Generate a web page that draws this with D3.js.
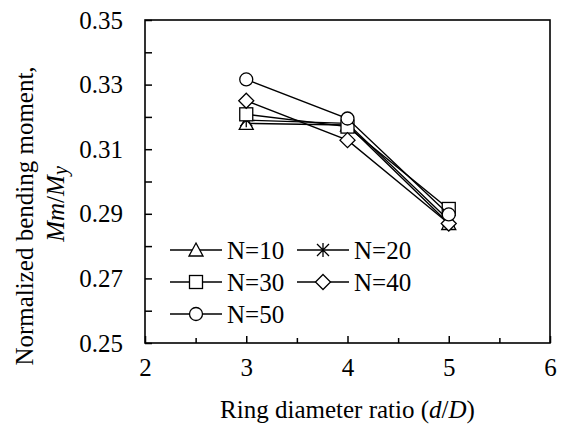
<!DOCTYPE html>
<html>
<head>
<meta charset="utf-8">
<script src="https://cdn.jsdelivr.net/npm/d3@7"></script>
<style>
  body { margin: 0; background: #fff; }
</style>
</head>
<body>
<svg id="chart" width="563" height="430"></svg>
<script>
// data
const ratios = [3, 4, 5];
const seriesNames = ['N=10', 'N=20', 'N=30', 'N=40', 'N=50'];
const markers = ['triangle', 'star', 'square', 'diamond', 'circle'];
const n10 = [0.3180, 0.3175, 0.2870];
const n20 = [0.3190, 0.3180, 0.2880];
const n30 = [0.3208, 0.3170, 0.2915];
const n40 = [0.3250, 0.3128, 0.2870];
const n50 = [0.3316, 0.3195, 0.2898];
const xTicks = [2, 3, 4, 5, 6];
const yTicks = [0.25, 0.27, 0.29, 0.31, 0.33, 0.35];

const allSeries = [n10, n20, n30, n40, n50];
const FONT = '"Liberation Serif"';

const svg = d3.select('#chart');
const width = 563, height = 430;
const margin = {t: 20, r: 13, b: 87, l: 145};

const x = d3.scaleLinear().domain([2, 6]).range([margin.l, width - margin.r]);
const y = d3.scaleLinear().domain([0.25, 0.35]).range([height - margin.b, margin.t]);

// minor ticks
const xMinor = d3.range(2.5, 6, 1);
const yMinor = d3.range(0.26, 0.35, 0.02);

// axes with inward ticks
svg.append('g')
    .attr('transform', `translate(0,${height - margin.b})`)
    .call(d3.axisBottom(x).tickValues(xTicks).tickSize(-7).tickPadding(15).tickFormat(d3.format('d')))
    .call(g => g.selectAll('text').attr('dy', '0.71em'));
svg.append('g')
    .attr('transform', `translate(0,${height - margin.b})`)
    .call(d3.axisBottom(x).tickValues(xMinor).tickSize(-5).tickFormat(''));

svg.append('g')
    .attr('transform', `translate(${margin.l},0)`)
    .call(d3.axisLeft(y).tickValues(yTicks).tickSize(-7).tickPadding(22).tickFormat(d3.format('.2f')));
svg.append('g')
    .attr('transform', `translate(${margin.l},0)`)
    .call(d3.axisLeft(y).tickValues(yMinor).tickSize(-7).tickFormat(''));

svg.selectAll('.tick text').attr('font-family', null).style('font-family', FONT).style('font-size', '25px').attr('fill', '#000');
svg.selectAll('.tick line').attr('stroke', '#000').attr('stroke-width', 1.5);
svg.selectAll('.domain').remove();

// frame
svg.append('rect')
    .attr('x', margin.l).attr('y', margin.t)
    .attr('width', width - margin.l - margin.r)
    .attr('height', height - margin.t - margin.b)
    .attr('fill', 'none').attr('stroke', '#000').attr('stroke-width', 1.6);

function drawMarker(g, type, cx, cy) {
    const st = {fill: '#fff', stroke: '#000', 'stroke-width': 1.3};
    let el;
    if (type === 'circle') {
        el = g.append('circle').attr('cx', cx).attr('cy', cy).attr('r', 6.5);
    } else if (type === 'square') {
        el = g.append('rect').attr('x', cx - 6.5).attr('y', cy - 6.5).attr('width', 13).attr('height', 13);
    } else if (type === 'diamond') {
        el = g.append('path').attr('d', `M${cx},${cy - 7.5}L${cx + 7.5},${cy}L${cx},${cy + 7.5}L${cx - 7.5},${cy}Z`);
    } else if (type === 'triangle') {
        el = g.append('path').attr('d', `M${cx},${cy - 7}L${cx + 7},${cy + 6}L${cx - 7},${cy + 6}Z`);
    } else {
        el = g.append('path').attr('d',
            `M${cx - 6},${cy - 6}L${cx + 6},${cy + 6}M${cx - 6},${cy + 6}L${cx + 6},${cy - 6}M${cx},${cy - 7}L${cx},${cy + 7}`);
        st.fill = 'none';
    }
    Object.entries(st).forEach(([k, v]) => el.attr(k, v));
}

const line = d3.line().x((d, i) => x(ratios[i])).y(d => y(d));

allSeries.forEach((vals, si) => {
    const g = svg.append('g');
    g.append('path')
        .attr('d', line(vals))
        .attr('fill', 'none').attr('stroke', '#000').attr('stroke-width', 1.4);
    vals.forEach((v, i) => drawMarker(g, markers[si], x(ratios[i]), y(v)));
});

// legend
const legendRows = [250, 282, 314];
const legendCols = [170, 297];
seriesNames.forEach((name, i) => {
    const lx = legendCols[i % 2];
    const ly = legendRows[Math.floor(i / 2)];
    const g = svg.append('g');
    g.append('line').attr('x1', lx).attr('x2', lx + 52).attr('y1', ly).attr('y2', ly)
        .attr('stroke', '#000').attr('stroke-width', 1.4);
    drawMarker(g, markers[i], lx + 26, ly);
    g.append('text').attr('x', lx + 57).attr('y', ly).attr('dy', '0.35em')
        .style('font-family', FONT).style('font-size', '25px').text(name);
});

// axis titles
svg.append('text')
    .attr('x', (margin.l + width - margin.r) / 2).attr('y', 418)
    .attr('text-anchor', 'middle').style('font-family', FONT).style('font-size', '25px')
    .html('Ring diameter ratio (<tspan font-style="italic">d</tspan>/<tspan font-style="italic">D</tspan>)');

const yTitle = svg.append('g').attr('transform', 'translate(0,216) rotate(-90)');
yTitle.append('text').attr('x', 0).attr('y', 33)
    .attr('text-anchor', 'middle').style('font-family', FONT).style('font-size', '25px')
    .text('Normalized bending moment,');
yTitle.append('text').attr('x', 12).attr('y', 64)
    .attr('text-anchor', 'middle').style('font-family', FONT).style('font-size', '25px')
    .html('<tspan font-style="italic">Mm</tspan>/<tspan font-style="italic">M</tspan><tspan font-style="italic" font-size="20px" dy="3">y</tspan>');
</script>
</body>
</html>
